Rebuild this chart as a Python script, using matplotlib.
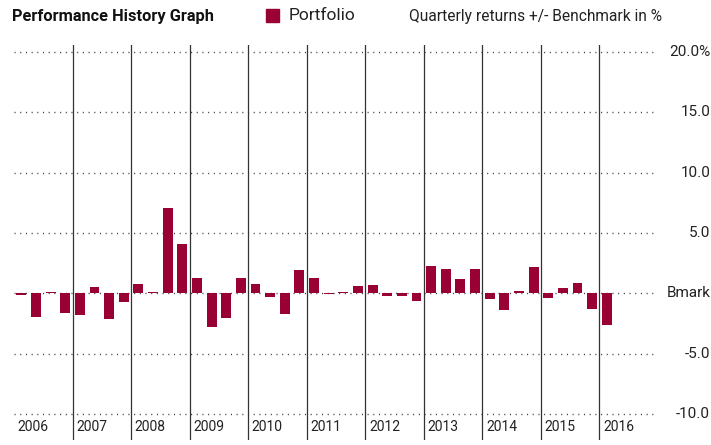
import matplotlib
matplotlib.use('Agg')
import matplotlib.pyplot as plt
from matplotlib.patches import Rectangle
import numpy as np

plt.rcParams['font.family'] = ['Roboto', 'DejaVu Sans']

# Quarterly returns relative to benchmark (%), 2006 Q1 .. 2016 Q1
years = [str(y) for y in range(2006, 2017)]
relative_returns = [
    -0.1, -1.95, 0.15, -1.6,    # 2006
    -1.8, 0.5, -2.1, -0.7,      # 2007
    0.8, 0.1, 7.05, 4.05,       # 2008
    1.25, -2.8, -2.0, 1.3,      # 2009
    0.8, -0.3, -1.75, 1.9,      # 2010
    1.3, -0.05, 0.1, 0.6,       # 2011
    0.7, -0.2, -0.2, -0.6,      # 2012
    2.3, 2.0, 1.2, 2.05,        # 2013
    -0.45, -1.4, 0.2, 2.2,      # 2014
    -0.4, 0.45, 0.85, -1.3,     # 2015
    -2.6,                       # 2016
]
y_ticks = [20, 15, 10, 5, 0, -5, -10]
y_labels = ['20.0%', '15.0', '10.0', '5.0', 'Bmark', '-5.0', '-10.0']

bar_color = '#990033'
text_color = '#222222'

fig = plt.figure(figsize=(7.11, 4.45), dpi=100)
ax = fig.add_axes([14 / 711, 1 - 440 / 445, 644 / 711, 395 / 445])
ax.set_xlim(-0.5, 43.5)
ax.set_ylim(-12.15, 20.58)
ax.axis('off')

# dotted gridlines
ax.hlines(y_ticks, -0.5, 43.5, colors='#444444', linewidth=1.0,
          linestyles=(0, (0.8, 3.3)), zorder=1)

# year separators
for k in range(1, len(years)):
    ax.axvline(4 * k - 0.5, color='#333333', linewidth=0.9, zorder=3)

x = np.arange(len(relative_returns))
ax.bar(x, relative_returns, width=0.68, color=bar_color, zorder=2)

# year labels
for k, yr in enumerate(years):
    ax.text(4 * k - 0.5 + 0.25, -11.1, yr, fontsize=10, color=text_color,
            ha='left', va='center')

# right-hand tick labels
for v, lab in zip(y_ticks, y_labels):
    ax.text(1.081, v, lab, transform=ax.get_yaxis_transform(), fontsize=11,
            color=text_color, ha='right', va='center')

# header
fig.text(12 / 711, 1 - 16 / 445, 'Performance History Graph', fontsize=11.8,
         fontweight='bold', color='#111111', ha='left', va='center')
fig.patches.append(Rectangle((266 / 711, 1 - 22 / 445), 13 / 711, 13 / 445,
                             transform=fig.transFigure, color=bar_color))
fig.text(289 / 711, 1 - 16 / 445, 'Portfolio', fontsize=12.5,
         color=text_color, ha='left', va='center')
fig.text(662 / 711, 1 - 16 / 445, 'Quarterly returns +/- Benchmark in %',
         fontsize=11.2, color=text_color, ha='right', va='center')

fig.savefig('out.png', dpi=100)
